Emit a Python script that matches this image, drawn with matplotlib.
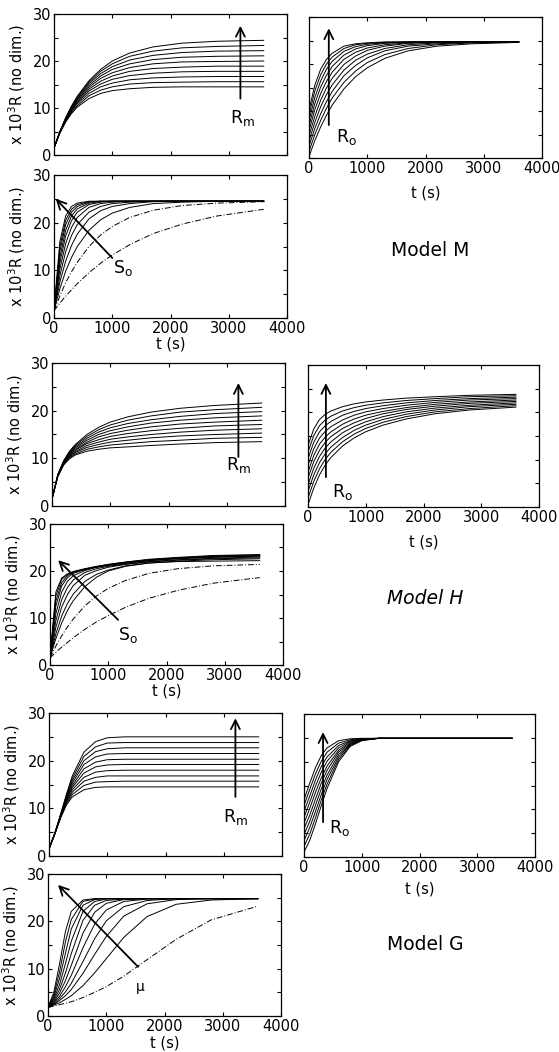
import matplotlib
matplotlib.use("Agg")
import matplotlib.pyplot as plt
from matplotlib.ticker import MultipleLocator

plt.rcParams['font.family'] = ['DejaVu Sans']
plt.rcParams['mathtext.fontset'] = 'dejavusans'

t_s = [0, 100, 200, 300, 400, 600, 800, 1000, 1300, 1700, 2200, 2800, 3600]

# ---------------- Model M ----------------
M_Rm = [
    [1.5, 4.6, 7.0, 8.8, 10.2, 12.0, 13.1, 13.7, 14.1, 14.4, 14.5, 14.5, 14.5],
    [1.5, 4.7, 7.2, 9.1, 10.5, 12.6, 13.8, 14.5, 15.1, 15.4, 15.5, 15.6, 15.6],
    [1.5, 4.7, 7.3, 9.3, 10.9, 13.1, 14.5, 15.3, 16.0, 16.4, 16.6, 16.7, 16.7],
    [1.5, 4.8, 7.4, 9.5, 11.2, 13.6, 15.1, 16.1, 16.9, 17.4, 17.7, 17.8, 17.8],
    [1.5, 4.8, 7.5, 9.7, 11.4, 14.0, 15.7, 16.8, 17.8, 18.4, 18.7, 18.9, 18.9],
    [1.5, 4.9, 7.6, 9.8, 11.7, 14.4, 16.3, 17.5, 18.6, 19.4, 19.8, 19.9, 20.0],
    [1.5, 4.9, 7.7, 10.0, 11.9, 14.8, 16.8, 18.2, 19.4, 20.3, 20.8, 21.0, 21.1],
    [1.5, 4.9, 7.8, 10.2, 12.1, 15.2, 17.3, 18.8, 20.2, 21.2, 21.8, 22.1, 22.2],
    [1.5, 4.9, 7.8, 10.3, 12.3, 15.5, 17.8, 19.4, 21.0, 22.1, 22.8, 23.1, 23.3],
    [1.5, 5.0, 7.9, 10.4, 12.5, 15.8, 18.2, 20.0, 21.7, 23.0, 23.8, 24.2, 24.4],
]
M_Ro = [
    [0.3, 3.7, 6.6, 9.1, 11.3, 14.7, 17.3, 19.2, 21.2, 22.8, 23.8, 24.3, 24.6],
    [1.4, 5.0, 8.0, 10.6, 12.8, 16.1, 18.5, 20.3, 22.0, 23.3, 24.1, 24.5, 24.6],
    [2.5, 6.3, 9.4, 12.0, 14.2, 17.5, 19.7, 21.3, 22.8, 23.8, 24.3, 24.6, 24.7],
    [3.6, 7.6, 10.9, 13.5, 15.6, 18.7, 20.8, 22.1, 23.3, 24.1, 24.5, 24.6, 24.7],
    [4.7, 8.9, 12.3, 14.9, 17.0, 19.9, 21.7, 22.9, 23.8, 24.4, 24.6, 24.7, 24.7],
    [5.8, 10.3, 13.7, 16.3, 18.3, 21.0, 22.5, 23.4, 24.1, 24.5, 24.7, 24.7, 24.7],
    [6.9, 11.6, 15.1, 17.6, 19.5, 21.9, 23.2, 23.9, 24.4, 24.6, 24.7, 24.7, 24.7],
    [8.0, 12.9, 16.4, 18.9, 20.6, 22.7, 23.7, 24.2, 24.5, 24.7, 24.7, 24.7, 24.7],
    [9.1, 14.3, 17.7, 20.0, 21.5, 23.3, 24.1, 24.4, 24.6, 24.7, 24.7, 24.7, 24.7],
    [10.2, 15.5, 18.9, 21.0, 22.3, 23.8, 24.3, 24.5, 24.7, 24.7, 24.7, 24.7, 24.7],
]
M_So = [
    [1.5, 3.1, 4.6, 5.9, 7.2, 9.5, 11.5, 13.2, 15.4, 17.7, 19.7, 21.4, 22.8],
    [1.5, 4.6, 7.4, 9.7, 11.7, 15.0, 17.4, 19.2, 21.1, 22.6, 23.6, 24.1, 24.4],
    [1.5, 6.1, 9.8, 12.7, 15.0, 18.4, 20.6, 22.0, 23.2, 24.0, 24.3, 24.5, 24.5],
    [1.5, 7.5, 11.9, 15.2, 17.6, 20.8, 22.5, 23.4, 24.0, 24.4, 24.5, 24.5, 24.5],
    [1.5, 8.8, 13.9, 17.3, 19.6, 22.2, 23.4, 24.0, 24.3, 24.5, 24.5, 24.5, 24.5],
    [1.5, 10.2, 15.6, 19.0, 21.1, 23.2, 24.0, 24.3, 24.5, 24.5, 24.5, 24.5, 24.5],
    [1.5, 11.5, 17.2, 20.4, 22.2, 23.8, 24.3, 24.5, 24.5, 24.5, 24.5, 24.5, 24.5],
    [1.5, 12.7, 18.4, 21.4, 22.9, 24.1, 24.4, 24.5, 24.5, 24.5, 24.5, 24.5, 24.5],
    [1.5, 13.9, 19.6, 22.2, 23.4, 24.3, 24.5, 24.5, 24.5, 24.5, 24.5, 24.5, 24.5],
    [1.5, 14.9, 20.5, 22.8, 23.8, 24.4, 24.5, 24.5, 24.5, 24.5, 24.5, 24.5, 24.5],
    [1.5, 16.0, 21.4, 23.4, 24.1, 24.5, 24.5, 24.5, 24.5, 24.5, 24.5, 24.5, 24.5],
]

# ---------------- Model H ----------------
H_Rm = [
    [1.5, 6.2, 8.6, 9.9, 10.7, 11.5, 11.9, 12.2, 12.4, 12.7, 13.0, 13.3, 13.5],
    [1.5, 6.2, 8.7, 10.1, 10.9, 11.9, 12.4, 12.8, 13.1, 13.5, 13.8, 14.2, 14.4],
    [1.5, 6.3, 8.8, 10.3, 11.2, 12.3, 12.9, 13.4, 13.8, 14.3, 14.7, 15.0, 15.3],
    [1.5, 6.3, 8.9, 10.4, 11.4, 12.7, 13.4, 14.0, 14.5, 15.0, 15.5, 15.9, 16.2],
    [1.5, 6.4, 9.0, 10.6, 11.7, 13.1, 13.9, 14.6, 15.2, 15.8, 16.3, 16.8, 17.1],
    [1.5, 6.4, 9.1, 10.8, 11.9, 13.4, 14.5, 15.2, 15.9, 16.6, 17.2, 17.6, 18.0],
    [1.5, 6.5, 9.2, 11.0, 12.2, 13.8, 15.0, 15.8, 16.6, 17.4, 18.0, 18.5, 18.9],
    [1.5, 6.5, 9.3, 11.1, 12.4, 14.2, 15.5, 16.4, 17.3, 18.1, 18.8, 19.4, 19.8],
    [1.5, 6.6, 9.4, 11.3, 12.7, 14.6, 16.0, 17.0, 18.0, 18.9, 19.7, 20.2, 20.7],
    [1.5, 6.6, 9.5, 11.5, 12.9, 15.0, 16.5, 17.6, 18.7, 19.7, 20.5, 21.1, 21.6],
]
H_Ro = [
    [0.5, 4.0, 6.8, 8.9, 10.5, 12.9, 14.6, 15.9, 17.3, 18.6, 19.7, 20.5, 21.1],
    [1.9, 5.4, 8.1, 10.1, 11.6, 13.8, 15.4, 16.6, 17.9, 19.1, 20.1, 20.8, 21.4],
    [3.3, 6.8, 9.4, 11.3, 12.7, 14.7, 16.2, 17.3, 18.5, 19.6, 20.5, 21.2, 21.7],
    [4.7, 8.2, 10.7, 12.5, 13.8, 15.7, 17.0, 18.0, 19.1, 20.1, 20.9, 21.5, 22.0],
    [6.1, 9.6, 12.0, 13.7, 14.9, 16.6, 17.8, 18.7, 19.7, 20.6, 21.3, 21.9, 22.3],
    [7.4, 10.9, 13.3, 14.8, 15.9, 17.5, 18.6, 19.4, 20.2, 21.0, 21.7, 22.2, 22.6],
    [8.8, 12.3, 14.6, 16.0, 17.0, 18.4, 19.4, 20.1, 20.8, 21.5, 22.1, 22.6, 22.9],
    [10.2, 13.7, 15.9, 17.2, 18.1, 19.4, 20.2, 20.8, 21.4, 22.0, 22.5, 22.9, 23.2],
    [11.6, 15.1, 17.2, 18.4, 19.2, 20.3, 21.0, 21.5, 22.0, 22.5, 22.9, 23.3, 23.5],
    [13.0, 16.5, 18.5, 19.6, 20.3, 21.2, 21.8, 22.2, 22.6, 23.0, 23.3, 23.6, 23.8],
]
H_So = [
    [1.5, 2.7, 3.8, 4.8, 5.8, 7.6, 9.2, 10.5, 12.3, 14.2, 15.9, 17.4, 18.6],
    [1.5, 4.0, 6.2, 8.1, 9.8, 12.6, 14.7, 16.3, 18.0, 19.5, 20.5, 21.1, 21.4],
    [1.5, 5.6, 8.9, 11.6, 13.7, 16.7, 18.7, 20.0, 21.0, 21.7, 22.0, 22.1, 22.2],
    [1.5, 6.6, 10.4, 13.1, 15.1, 17.8, 19.3, 20.2, 21.1, 21.7, 22.1, 22.4, 22.6],
    [1.5, 8.0, 12.3, 15.0, 16.9, 19.1, 20.1, 20.8, 21.4, 21.9, 22.3, 22.6, 22.8],
    [1.5, 9.4, 13.9, 16.5, 18.1, 19.7, 20.5, 21.0, 21.5, 22.0, 22.4, 22.7, 23.0],
    [1.5, 10.9, 15.5, 17.8, 19.0, 20.1, 20.8, 21.2, 21.7, 22.2, 22.6, 22.9, 23.2],
    [1.5, 12.5, 16.8, 18.6, 19.5, 20.3, 20.8, 21.2, 21.7, 22.2, 22.7, 23.0, 23.2],
    [1.5, 13.6, 17.5, 19.0, 19.7, 20.4, 20.9, 21.3, 21.8, 22.3, 22.8, 23.1, 23.3],
    [1.5, 14.7, 18.2, 19.3, 19.8, 20.4, 20.9, 21.4, 21.9, 22.4, 22.8, 23.2, 23.4],
    [1.5, 15.5, 18.5, 19.4, 19.9, 20.5, 21.0, 21.4, 21.9, 22.5, 22.9, 23.3, 23.5],
]

# ---------------- Model G ----------------
G_Rm = [
    [1.5, 4.6, 8.0, 10.7, 12.4, 13.9, 14.4, 14.5, 14.5, 14.5, 14.5, 14.5, 14.5],
    [1.5, 4.6, 8.1, 11.0, 12.9, 14.8, 15.5, 15.6, 15.7, 15.7, 15.7, 15.7, 15.7],
    [1.5, 4.6, 8.2, 11.2, 13.4, 15.7, 16.5, 16.8, 16.8, 16.8, 16.8, 16.8, 16.8],
    [1.5, 4.7, 8.3, 11.5, 13.9, 16.5, 17.6, 17.9, 18.0, 18.0, 18.0, 18.0, 18.0],
    [1.5, 4.7, 8.4, 11.7, 14.4, 17.4, 18.7, 19.1, 19.2, 19.2, 19.2, 19.2, 19.2],
    [1.5, 4.7, 8.4, 12.0, 14.8, 18.3, 19.7, 20.2, 20.3, 20.3, 20.3, 20.3, 20.3],
    [1.5, 4.7, 8.5, 12.2, 15.3, 19.2, 20.8, 21.4, 21.5, 21.5, 21.5, 21.5, 21.5],
    [1.5, 4.8, 8.6, 12.5, 15.8, 20.0, 21.9, 22.5, 22.7, 22.7, 22.7, 22.7, 22.7],
    [1.5, 4.8, 8.7, 12.7, 16.3, 20.9, 22.9, 23.7, 23.8, 23.8, 23.8, 23.8, 23.8],
    [1.5, 4.8, 8.8, 13.0, 16.8, 21.8, 24.0, 24.8, 25.0, 25.0, 25.0, 25.0, 25.0],
]
G_Ro = [
    [1.0, 3.5, 7.0, 10.8, 14.4, 20.0, 23.2, 24.4, 24.9, 24.9, 24.9, 24.9, 24.9],
    [2.2, 4.8, 8.3, 12.0, 15.3, 20.5, 23.4, 24.5, 24.9, 24.9, 24.9, 24.9, 24.9],
    [3.4, 6.2, 9.6, 13.1, 16.3, 21.0, 23.6, 24.5, 24.9, 24.9, 24.9, 24.9, 24.9],
    [4.7, 7.5, 10.9, 14.3, 17.2, 21.5, 23.7, 24.6, 24.9, 24.9, 24.9, 24.9, 24.9],
    [5.9, 8.8, 12.2, 15.5, 18.2, 22.0, 23.9, 24.6, 24.9, 24.9, 24.9, 24.9, 24.9],
    [7.1, 10.2, 13.6, 16.6, 19.1, 22.4, 24.1, 24.7, 24.9, 24.9, 24.9, 24.9, 24.9],
    [8.3, 11.5, 14.9, 17.8, 20.1, 22.9, 24.3, 24.7, 24.9, 24.9, 24.9, 24.9, 24.9],
    [9.6, 12.8, 16.2, 19.0, 21.0, 23.4, 24.4, 24.8, 24.9, 24.9, 24.9, 24.9, 24.9],
    [10.8, 14.2, 17.5, 20.1, 22.0, 23.9, 24.6, 24.8, 24.9, 24.9, 24.9, 24.9, 24.9],
    [12.0, 15.5, 18.8, 21.3, 22.9, 24.4, 24.8, 24.9, 24.9, 24.9, 24.9, 24.9, 24.9],
]
G_mu = [
    [1.8, 2.1, 2.4, 2.7, 3.0, 3.9, 5.0, 6.2, 8.4, 11.9, 16.2, 20.3, 23.2],
    [1.8, 2.3, 2.8, 3.5, 4.3, 6.4, 9.1, 12.1, 16.6, 21.0, 23.6, 24.5, 24.8],
    [1.8, 2.4, 3.3, 4.3, 5.6, 9.0, 13.0, 16.8, 21.1, 23.7, 24.6, 24.8, 24.8],
    [1.8, 2.6, 3.7, 5.1, 6.9, 11.5, 16.3, 20.1, 23.1, 24.4, 24.8, 24.8, 24.8],
    [1.8, 2.8, 4.2, 6.2, 8.6, 14.4, 19.4, 22.4, 24.2, 24.7, 24.8, 24.8, 24.8],
    [1.8, 3.0, 4.9, 7.5, 10.7, 17.5, 21.9, 23.8, 24.6, 24.8, 24.8, 24.8, 24.8],
    [1.8, 3.3, 5.7, 9.1, 13.2, 20.2, 23.4, 24.4, 24.7, 24.8, 24.8, 24.8, 24.8],
    [1.8, 3.6, 6.7, 11.1, 15.8, 22.1, 24.2, 24.7, 24.8, 24.8, 24.8, 24.8, 24.8],
    [1.8, 4.0, 8.0, 13.3, 18.4, 23.4, 24.6, 24.8, 24.8, 24.8, 24.8, 24.8, 24.8],
    [1.8, 4.5, 9.4, 15.7, 20.4, 24.2, 24.7, 24.8, 24.8, 24.8, 24.8, 24.8, 24.8],
    [1.8, 5.0, 11.1, 17.9, 22.1, 24.5, 24.8, 24.8, 24.8, 24.8, 24.8, 24.8, 24.8],
]

y_ticks = [0, 10, 20, 30]
x_ticks = [0, 1000, 2000, 3000, 4000]
y_label = r'x 10$^3$R (no dim.)'
x_label = 't (s)'

W, H = 559, 1052
fig = plt.figure(figsize=(W / 100, H / 100), dpi=100)


def make_ax(l, r, t, b):
    return fig.add_axes([l / W, 1 - b / H, (r - l) / W, (b - t) / H])


def style(ax, px_w, px_h, xlabels, ylabels, xlab_off=None):
    ax.set_xlim(0, 4000)
    ax.set_ylim(0, 30)
    ax.set_xticks(x_ticks)
    ax.set_yticks(y_ticks)
    ax.yaxis.set_minor_locator(MultipleLocator(5))
    ax.tick_params(which='both', direction='in', top=True, right=True,
                   labelsize=10.5, pad=2, width=0.8)
    ax.tick_params(which='major', length=3)
    ax.tick_params(which='minor', length=3)
    for s in ax.spines.values():
        s.set_linewidth(0.9)
    if not xlabels:
        ax.set_xticklabels([])
    if not ylabels:
        ax.set_yticklabels([])
    else:
        ax.set_ylabel(y_label, fontsize=10.5, va='center')
        ax.yaxis.set_label_coords(-37 / px_w, 0.5)
    if xlab_off is not None:
        ax.set_xlabel(x_label, fontsize=10.5, va='center')
        ax.xaxis.set_label_coords(0.5, -xlab_off / px_h)


def draw(ax, curves, dashed=()):
    for i, c in enumerate(curves):
        if i in dashed:
            ax.plot(t_s, c, color='black', lw=0.7, ls=(0, (6, 2, 1, 2)))
        else:
            ax.plot(t_s, c, color='black', lw=0.7)


def arrow(ax, tail, head, label, lpos, size=12):
    ax.annotate('', xy=head, xytext=tail,
                arrowprops=dict(arrowstyle='->', lw=1.3, color='black',
                                mutation_scale=16, shrinkA=0, shrinkB=0))
    ax.text(lpos[0], lpos[1], label, fontsize=size, ha='center', va='center')


panels = [
    # (l, r, t, b), data, dashed, xlabels, ylabels, xlabel offset, arrow
    ((54, 287, 14, 155), M_Rm, (), False, True, None,
     ((3200, 12), (3200, 27.5), r'$\mathrm{R_m}$', (3230, 7.8))),
    ((309, 542, 17, 158), M_Ro, (), True, False, 35,
     ((340, 7.0), (340, 27.6), r'$\mathrm{R_o}$', (650, 4.5))),
    ((54, 287, 175, 318), M_So, (0, 1), True, True, 26,
     ((1000, 12.6), (30, 25.0), r'$\mathrm{S_o}$', (1185, 10.5))),
    ((52, 285, 363, 506), H_Rm, (), False, True, None,
     ((3200, 10.3), (3200, 25.8), r'$\mathrm{R_m}$', (3210, 8.6))),
    ((308, 539, 365, 507), H_Ro, (), True, False, 35,
     ((310, 6.3), (310, 26.2), r'$\mathrm{R_o}$', (600, 3.2))),
    ((50, 283, 524, 665), H_So, (0, 1), True, True, 26,
     ((1170, 9.6), (140, 22.3), r'$\mathrm{S_o}$', (1340, 6.4))),
    ((49, 282, 713, 856), G_Rm, (), False, True, None,
     ((3200, 12.4), (3200, 28.9), r'$\mathrm{R_m}$', (3200, 8.2))),
    ((304, 535, 714, 857), G_Ro, (), True, False, 32,
     ((330, 7.3), (330, 26.2), r'$\mathrm{R_o}$', (620, 6.1))),
    ((48, 281, 874, 1016), G_mu, (0,), True, True, 27,
     ((1545, 10.4), (172, 27.7), r'$\mathrm{\mu}$', (1580, 5.9))),
]

for box, data, dashed, xl, yl, xoff, arr in panels:
    l, r, t, b = box
    ax = make_ax(l, r, t, b)
    draw(ax, data, dashed)
    style(ax, r - l, b - t, xl, yl, xoff)
    tail, head, lab, lpos = arr
    arrow(ax, tail, head, lab, lpos, size=10 if 'mu' in lab else 12.5)

fig.text(430 / W, 1 - 250 / H, 'Model M', fontsize=13.5, ha='center', va='center')
fig.text(425 / W, 1 - 598 / H, 'Model H', fontsize=13.5, ha='center', va='center',
         style='italic')
fig.text(425 / W, 1 - 945 / H, 'Model G', fontsize=13.5, ha='center', va='center')

fig.savefig('out.png', dpi=100)
